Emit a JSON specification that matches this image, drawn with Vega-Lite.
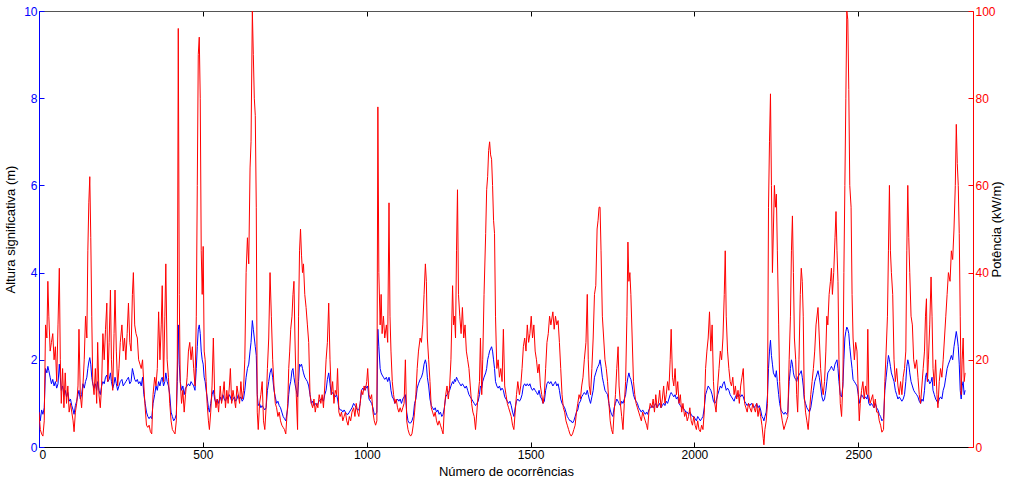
{
"$schema":"https://vega.github.io/schema/vega-lite/v6.json",
"width":934,"height":436,
"autosize":{"type":"none"},
"padding":{"left":39,"top":11,"right":51,"bottom":40},
"config":{"view":{"stroke":null},"font":"Liberation Sans","axis":{"labelFont":"Liberation Sans","titleFont":"Liberation Sans","labelFontSize":12,"titleFontSize":13,"titleFontWeight":"normal","grid":false,"tickSize":-5,"labelPadding":7,"domainWidth":1,"tickWidth":1}},
"data":{"values":[
{"x":0,"h":0.9,"p":8},{"x":4,"h":0.6,"p":4},{"x":8,"h":0.85,"p":3},{"x":12,"h":0.75,"p":2.5},{"x":16,"h":0.9,"p":6},{"x":20,"h":1.8,"p":28},{"x":24,"h":1.7,"p":25},{"x":27,"h":1.85,"p":38},{"x":30,"h":1.75,"p":30},{"x":34,"h":1.6,"p":22},{"x":38,"h":1.45,"p":24},{"x":42,"h":1.55,"p":26},{"x":46,"h":1.4,"p":20},{"x":50,"h":1.5,"p":23},{"x":54,"h":1.35,"p":15},{"x":58,"h":1.45,"p":28},{"x":62,"h":1.9,"p":41},{"x":65,"h":1.6,"p":20},{"x":68,"h":1.3,"p":10},{"x":72,"h":1.4,"p":18},{"x":76,"h":1.2,"p":9},{"x":80,"h":1.3,"p":17},{"x":84,"h":1.15,"p":10},{"x":88,"h":1.25,"p":14},{"x":92,"h":1.05,"p":8},{"x":96,"h":1.1,"p":10},{"x":100,"h":0.95,"p":8},{"x":104,"h":0.85,"p":6},{"x":107,"h":0.75,"p":3.5},{"x":111,"h":0.95,"p":8},{"x":115,"h":1.05,"p":10},{"x":119,"h":1.2,"p":14},{"x":122,"h":1.3,"p":27},{"x":126,"h":1.1,"p":12},{"x":130,"h":1.2,"p":9},{"x":134,"h":1.45,"p":14},{"x":138,"h":1.35,"p":20},{"x":142,"h":1.5,"p":30},{"x":146,"h":1.6,"p":25},{"x":149,"h":1.8,"p":45},{"x":152,"h":1.95,"p":56},{"x":155,"h":2.05,"p":62},{"x":158,"h":1.9,"p":48},{"x":161,"h":1.6,"p":30},{"x":164,"h":1.45,"p":15},{"x":168,"h":1.35,"p":12},{"x":172,"h":1.45,"p":18},{"x":176,"h":1.3,"p":10},{"x":179,"h":1.5,"p":24},{"x":183,"h":1.3,"p":12},{"x":187,"h":1.2,"p":9},{"x":191,"h":1.4,"p":14},{"x":195,"h":1.5,"p":26},{"x":199,"h":1.45,"p":20},{"x":203,"h":1.6,"p":27},{"x":207,"h":1.65,"p":33},{"x":210,"h":1.5,"p":15},{"x":214,"h":1.55,"p":24},{"x":218,"h":1.7,"p":36},{"x":221,"h":1.5,"p":20},{"x":225,"h":1.35,"p":13},{"x":229,"h":1.45,"p":26},{"x":232,"h":1.6,"p":36},{"x":236,"h":1.45,"p":22},{"x":240,"h":1.3,"p":14},{"x":244,"h":1.4,"p":18},{"x":248,"h":1.5,"p":24},
{"x":253,"h":1.55,"p":28},{"x":257,"h":1.4,"p":22},{"x":261,"h":1.45,"p":25},{"x":265,"h":1.5,"p":20},{"x":269,"h":1.55,"p":26},{"x":273,"h":1.6,"p":33},{"x":277,"h":1.45,"p":24},{"x":281,"h":1.5,"p":22},{"x":285,"h":1.8,"p":35},{"x":288,"h":1.7,"p":40},{"x":292,"h":1.55,"p":28},{"x":296,"h":1.5,"p":26},{"x":300,"h":1.55,"p":25},{"x":304,"h":1.45,"p":20},{"x":308,"h":1.5,"p":19},{"x":312,"h":1.4,"p":18},{"x":316,"h":1.6,"p":20},{"x":320,"h":1.2,"p":14},{"x":324,"h":1.0,"p":9},{"x":328,"h":0.8,"p":5},{"x":332,"h":0.7,"p":4.5},{"x":336,"h":0.65,"p":5},{"x":340,"h":0.7,"p":3.5},{"x":344,"h":0.65,"p":3},{"x":348,"h":1.0,"p":12},
{"x":353,"h":1.2,"p":16},{"x":357,"h":1.4,"p":14},{"x":361,"h":1.3,"p":18},{"x":365,"h":1.5,"p":31},{"x":369,"h":1.4,"p":20},{"x":373,"h":1.55,"p":28},{"x":376,"h":1.6,"p":37},{"x":380,"h":1.4,"p":15},{"x":384,"h":1.5,"p":30},{"x":387,"h":1.7,"p":42},{"x":391,"h":1.5,"p":20},{"x":395,"h":1.4,"p":16},{"x":399,"h":1.2,"p":10},{"x":403,"h":0.8,"p":6},{"x":407,"h":0.7,"p":4},{"x":411,"h":0.6,"p":3.5},{"x":415,"h":0.65,"p":3},{"x":419,"h":0.75,"p":6},{"x":422,"h":1.5,"p":20},{"x":425,"h":2.8,"p":96},{"x":428,"h":1.9,"p":35},{"x":431,"h":1.5,"p":15},{"x":435,"h":1.3,"p":10},{"x":439,"h":1.4,"p":13},{"x":443,"h":1.2,"p":8},{"x":447,"h":1.35,"p":12},
{"x":452,"h":1.4,"p":16},{"x":456,"h":1.45,"p":22},{"x":460,"h":1.4,"p":24},{"x":464,"h":1.5,"p":20},{"x":468,"h":1.45,"p":23},{"x":472,"h":1.4,"p":18},{"x":476,"h":1.3,"p":14},{"x":480,"h":1.8,"p":30},{"x":483,"h":2.3,"p":60},{"x":486,"h":2.7,"p":90},{"x":489,"h":2.8,"p":94},{"x":492,"h":2.6,"p":80},{"x":495,"h":2.2,"p":45},{"x":498,"h":2.0,"p":35},{"x":501,"h":1.9,"p":46},{"x":504,"h":1.6,"p":22},{"x":507,"h":1.5,"p":20},{"x":510,"h":1.3,"p":15},{"x":513,"h":1.15,"p":10},{"x":517,"h":0.9,"p":6},{"x":520,"h":0.8,"p":4},{"x":524,"h":1.0,"p":8},{"x":528,"h":1.2,"p":14},{"x":532,"h":1.3,"p":25},{"x":536,"h":1.1,"p":12},{"x":540,"h":1.0,"p":9},{"x":544,"h":1.1,"p":11},{"x":548,"h":1.0,"p":8},
{"x":553,"h":1.15,"p":14},{"x":557,"h":1.05,"p":10},{"x":561,"h":1.2,"p":12},{"x":565,"h":1.1,"p":15},{"x":569,"h":1.05,"p":9},{"x":573,"h":1.15,"p":13},{"x":577,"h":1.1,"p":10},{"x":581,"h":1.2,"p":14},{"x":584,"h":1.15,"p":18},{"x":588,"h":1.05,"p":10},{"x":592,"h":1.1,"p":13},{"x":596,"h":1.15,"p":11},{"x":600,"h":1.05,"p":9},{"x":604,"h":1.1,"p":14},{"x":608,"h":1.2,"p":12},{"x":612,"h":1.1,"p":10},{"x":616,"h":1.15,"p":15},{"x":620,"h":1.05,"p":11},{"x":624,"h":1.1,"p":13},{"x":628,"h":1.3,"p":20},{"x":632,"h":1.6,"p":40},{"x":636,"h":1.8,"p":48},{"x":640,"h":1.9,"p":42},{"x":644,"h":2.2,"p":64},{"x":647,"h":2.4,"p":70},
{"x":651,"h":2.9,"p":100},{"x":654,"h":2.7,"p":90},{"x":657,"h":2.5,"p":80},{"x":660,"h":2.3,"p":76},{"x":663,"h":2.1,"p":55},{"x":666,"h":1.2,"p":8},{"x":669,"h":0.95,"p":4},{"x":673,"h":1.0,"p":10},{"x":677,"h":0.9,"p":12},{"x":681,"h":0.95,"p":15},{"x":685,"h":0.9,"p":6},{"x":689,"h":0.85,"p":4},{"x":693,"h":0.9,"p":9},{"x":697,"h":1.3,"p":18},{"x":701,"h":1.5,"p":25},{"x":705,"h":1.7,"p":40},{"x":709,"h":1.8,"p":30},{"x":713,"h":1.6,"p":20},{"x":717,"h":1.3,"p":14},{"x":721,"h":1.15,"p":10},{"x":725,"h":1.0,"p":9},{"x":729,"h":1.05,"p":7},{"x":733,"h":0.95,"p":8},{"x":737,"h":0.9,"p":6},{"x":741,"h":0.8,"p":5},{"x":745,"h":0.7,"p":4.5},{"x":749,"h":0.65,"p":4},
{"x":753,"h":0.6,"p":3},{"x":759,"h":0.9,"p":10},{"x":762,"h":1.2,"p":18},{"x":765,"h":1.4,"p":22},{"x":768,"h":1.5,"p":27},{"x":772,"h":1.75,"p":30},{"x":775,"h":1.8,"p":35},{"x":778,"h":1.6,"p":38},{"x":781,"h":1.45,"p":25},{"x":785,"h":1.3,"p":12},{"x":789,"h":1.15,"p":4},{"x":792,"h":1.5,"p":30},{"x":795,"h":1.9,"p":45},{"x":798,"h":1.85,"p":50},{"x":801,"h":1.9,"p":44},{"x":804,"h":1.8,"p":40},{"x":807,"h":1.7,"p":42},{"x":811,"h":1.6,"p":35},{"x":815,"h":1.55,"p":32},{"x":819,"h":1.5,"p":28},{"x":823,"h":1.4,"p":24},{"x":827,"h":1.2,"p":12},{"x":831,"h":1.0,"p":10},{"x":835,"h":1.05,"p":9},{"x":839,"h":0.95,"p":11},{"x":843,"h":1.0,"p":8},{"x":847,"h":0.95,"p":10},{"x":851,"h":1.0,"p":9},{"x":855,"h":1.05,"p":12},
{"x":860,"h":1.1,"p":10},{"x":864,"h":1.1,"p":12},{"x":868,"h":1.05,"p":9},{"x":872,"h":1.2,"p":14},{"x":876,"h":1.3,"p":20},{"x":880,"h":1.55,"p":24},{"x":884,"h":1.7,"p":33},{"x":888,"h":1.45,"p":20},{"x":892,"h":1.2,"p":12},{"x":896,"h":1.25,"p":15},{"x":900,"h":1.2,"p":10},{"x":904,"h":1.15,"p":13},{"x":908,"h":1.2,"p":12},{"x":911,"h":1.1,"p":18},{"x":915,"h":0.9,"p":8},{"x":919,"h":0.85,"p":7},{"x":923,"h":0.85,"p":8},{"x":927,"h":0.8,"p":6},{"x":931,"h":0.85,"p":7},{"x":935,"h":0.8,"p":8},{"x":939,"h":0.75,"p":6},{"x":943,"h":0.75,"p":5},{"x":947,"h":0.8,"p":7},{"x":951,"h":0.85,"p":6},{"x":955,"h":0.9,"p":8},
{"x":960,"h":1.0,"p":9},{"x":964,"h":0.95,"p":7},{"x":968,"h":0.9,"p":10},{"x":972,"h":0.85,"p":8},{"x":976,"h":0.85,"p":7},{"x":980,"h":1.0,"p":10},{"x":984,"h":1.3,"p":13},{"x":988,"h":1.35,"p":12},{"x":992,"h":1.3,"p":14},{"x":996,"h":1.4,"p":13},{"x":1000,"h":1.35,"p":15},{"x":1003,"h":1.4,"p":18},{"x":1007,"h":1.1,"p":12},{"x":1011,"h":1.05,"p":11},{"x":1015,"h":1.0,"p":12},{"x":1019,"h":0.9,"p":8},{"x":1023,"h":0.75,"p":6},{"x":1027,"h":0.75,"p":5},{"x":1031,"h":0.8,"p":6},{"x":1034,"h":2.7,"p":78},{"x":1037,"h":2.3,"p":40},{"x":1041,"h":1.8,"p":28},{"x":1044,"h":1.7,"p":35},{"x":1047,"h":1.65,"p":26},{"x":1051,"h":1.6,"p":30},{"x":1055,"h":1.55,"p":25},
{"x":1060,"h":1.6,"p":28},{"x":1064,"h":1.5,"p":24},{"x":1068,"h":1.6,"p":56},{"x":1071,"h":1.5,"p":30},{"x":1074,"h":1.3,"p":22},{"x":1078,"h":1.15,"p":15},{"x":1082,"h":1.1,"p":12},{"x":1086,"h":1.0,"p":10},{"x":1090,"h":1.05,"p":11},{"x":1094,"h":1.1,"p":9},{"x":1098,"h":1.05,"p":8},{"x":1102,"h":1.1,"p":9},{"x":1106,"h":1.0,"p":8},{"x":1110,"h":1.1,"p":9},{"x":1114,"h":1.15,"p":10},{"x":1118,"h":1.2,"p":20},{"x":1122,"h":0.8,"p":6},{"x":1126,"h":0.6,"p":4},{"x":1130,"h":0.55,"p":3},{"x":1134,"h":0.55,"p":2.5},{"x":1138,"h":0.6,"p":3},{"x":1142,"h":0.7,"p":5},{"x":1146,"h":1.0,"p":8},{"x":1150,"h":1.1,"p":12},{"x":1154,"h":1.35,"p":18},{"x":1158,"h":1.45,"p":22},
{"x":1163,"h":1.55,"p":25},{"x":1167,"h":1.6,"p":24},{"x":1171,"h":1.7,"p":28},{"x":1175,"h":1.9,"p":35},{"x":1179,"h":2.0,"p":42},{"x":1182,"h":1.9,"p":38},{"x":1185,"h":1.6,"p":25},{"x":1189,"h":1.4,"p":20},{"x":1193,"h":1.1,"p":15},{"x":1197,"h":0.95,"p":9},{"x":1201,"h":0.9,"p":8},{"x":1205,"h":0.85,"p":7},{"x":1209,"h":0.9,"p":8},{"x":1213,"h":0.8,"p":6},{"x":1217,"h":0.85,"p":5},{"x":1221,"h":0.75,"p":6},{"x":1225,"h":0.8,"p":5},{"x":1229,"h":0.7,"p":4},{"x":1233,"h":0.75,"p":3},{"x":1237,"h":0.9,"p":9},{"x":1241,"h":1.15,"p":12},{"x":1245,"h":1.2,"p":14},{"x":1249,"h":1.25,"p":11},{"x":1253,"h":1.3,"p":14},{"x":1257,"h":1.4,"p":20},
{"x":1262,"h":1.5,"p":37},{"x":1265,"h":1.45,"p":28},{"x":1268,"h":1.55,"p":30},{"x":1271,"h":1.5,"p":25},{"x":1274,"h":1.6,"p":45},{"x":1277,"h":1.55,"p":59},{"x":1280,"h":1.5,"p":35},{"x":1284,"h":1.45,"p":30},{"x":1288,"h":1.4,"p":26},{"x":1292,"h":1.45,"p":32},{"x":1296,"h":1.4,"p":25},{"x":1300,"h":1.35,"p":28},{"x":1304,"h":1.4,"p":22},{"x":1308,"h":1.3,"p":20},{"x":1312,"h":1.2,"p":18},{"x":1316,"h":1.15,"p":14},{"x":1320,"h":1.1,"p":10},{"x":1324,"h":1.05,"p":8},{"x":1328,"h":1.0,"p":7},{"x":1332,"h":0.95,"p":4},{"x":1336,"h":1.0,"p":8},{"x":1340,"h":1.05,"p":12},{"x":1344,"h":1.2,"p":15},{"x":1347,"h":1.4,"p":25},{"x":1351,"h":1.35,"p":12},{"x":1354,"h":1.5,"p":20},{"x":1358,"h":1.6,"p":35},
{"x":1363,"h":1.7,"p":49},{"x":1366,"h":1.8,"p":59},{"x":1369,"h":2.0,"p":62},{"x":1372,"h":2.1,"p":68},{"x":1375,"h":2.2,"p":70},{"x":1378,"h":2.25,"p":67},{"x":1381,"h":2.3,"p":66},{"x":1384,"h":2.2,"p":60},{"x":1387,"h":2.0,"p":52},{"x":1390,"h":1.8,"p":49},{"x":1393,"h":1.5,"p":30},{"x":1397,"h":1.4,"p":18},{"x":1401,"h":1.35,"p":20},{"x":1405,"h":1.4,"p":16},{"x":1409,"h":1.3,"p":18},{"x":1413,"h":1.35,"p":15},{"x":1417,"h":1.3,"p":27},{"x":1421,"h":1.15,"p":14},{"x":1425,"h":1.1,"p":12},{"x":1429,"h":1.05,"p":10},{"x":1433,"h":1.0,"p":9},{"x":1437,"h":1.05,"p":8},{"x":1441,"h":0.95,"p":7},{"x":1445,"h":0.8,"p":5},{"x":1449,"h":0.7,"p":4},{"x":1453,"h":0.9,"p":8},{"x":1457,"h":1.05,"p":12},{"x":1461,"h":1.1,"p":15},
{"x":1466,"h":1.05,"p":12},{"x":1470,"h":1.1,"p":14},{"x":1474,"h":1.2,"p":18},{"x":1478,"h":1.4,"p":23},{"x":1482,"h":1.45,"p":25},{"x":1486,"h":1.4,"p":22},{"x":1490,"h":1.45,"p":28},{"x":1494,"h":1.4,"p":24},{"x":1498,"h":1.45,"p":26},{"x":1502,"h":1.35,"p":30},{"x":1506,"h":1.3,"p":25},{"x":1510,"h":1.35,"p":28},{"x":1514,"h":1.3,"p":22},{"x":1518,"h":1.25,"p":20},{"x":1522,"h":1.2,"p":17},{"x":1526,"h":1.3,"p":19},{"x":1530,"h":1.15,"p":14},{"x":1534,"h":1.1,"p":12},{"x":1538,"h":1.0,"p":10},{"x":1542,"h":1.05,"p":12},{"x":1546,"h":1.3,"p":18},{"x":1550,"h":1.45,"p":24},{"x":1554,"h":1.5,"p":26},{"x":1558,"h":1.45,"p":30},{"x":1562,"h":1.5,"p":28},
{"x":1568,"h":1.4,"p":31},{"x":1572,"h":1.45,"p":27},{"x":1576,"h":1.5,"p":30},{"x":1580,"h":1.4,"p":28},{"x":1584,"h":1.45,"p":29},{"x":1588,"h":1.3,"p":24},{"x":1592,"h":1.1,"p":18},{"x":1596,"h":1.0,"p":12},{"x":1600,"h":0.95,"p":9},{"x":1604,"h":0.9,"p":8},{"x":1608,"h":0.8,"p":6},{"x":1612,"h":0.7,"p":5},{"x":1616,"h":0.65,"p":4},{"x":1620,"h":0.6,"p":3},{"x":1624,"h":0.6,"p":2.5},{"x":1628,"h":0.55,"p":3},{"x":1632,"h":0.6,"p":4},{"x":1636,"h":0.7,"p":5},{"x":1640,"h":0.8,"p":8},{"x":1644,"h":0.85,"p":10},{"x":1648,"h":1.0,"p":12},{"x":1652,"h":1.05,"p":11},{"x":1656,"h":1.15,"p":14},{"x":1660,"h":1.2,"p":16},{"x":1664,"h":1.25,"p":20},
{"x":1669,"h":1.2,"p":24},{"x":1673,"h":1.3,"p":35},{"x":1676,"h":1.2,"p":20},{"x":1679,"h":1.1,"p":14},{"x":1683,"h":1.0,"p":12},{"x":1687,"h":1.15,"p":18},{"x":1691,"h":1.3,"p":25},{"x":1695,"h":1.6,"p":35},{"x":1699,"h":1.7,"p":37},{"x":1703,"h":1.8,"p":50},{"x":1706,"h":1.85,"p":52},{"x":1709,"h":1.9,"p":55},{"x":1712,"h":2.0,"p":55},{"x":1715,"h":1.85,"p":45},{"x":1719,"h":1.6,"p":30},{"x":1723,"h":1.45,"p":25},{"x":1727,"h":1.3,"p":20},{"x":1731,"h":1.25,"p":18},{"x":1735,"h":1.2,"p":15},{"x":1739,"h":1.0,"p":10},{"x":1743,"h":0.85,"p":6},{"x":1747,"h":0.75,"p":4},{"x":1751,"h":0.7,"p":3},{"x":1755,"h":0.9,"p":8},{"x":1759,"h":1.0,"p":12},{"x":1763,"h":1.1,"p":18},
{"x":1767,"h":1.05,"p":23},{"x":1770,"h":1.0,"p":14},{"x":1774,"h":0.95,"p":10},{"x":1778,"h":1.05,"p":7},{"x":1782,"h":1.0,"p":4},{"x":1786,"h":1.1,"p":10},{"x":1790,"h":1.2,"p":15},{"x":1794,"h":1.45,"p":30},{"x":1797,"h":1.6,"p":47},{"x":1800,"h":1.7,"p":38},{"x":1803,"h":1.6,"p":40},{"x":1806,"h":1.55,"p":35},{"x":1810,"h":1.4,"p":25},{"x":1814,"h":1.2,"p":15},{"x":1818,"h":1.1,"p":12},{"x":1822,"h":1.05,"p":10},{"x":1826,"h":1.0,"p":9},{"x":1830,"h":0.9,"p":8},{"x":1834,"h":0.85,"p":7},{"x":1838,"h":0.8,"p":6},{"x":1842,"h":0.85,"p":8},{"x":1846,"h":0.8,"p":7},{"x":1850,"h":0.75,"p":6},{"x":1854,"h":0.8,"p":5},{"x":1857,"h":0.75,"p":4},{"x":1861,"h":0.85,"p":8},{"x":1865,"h":0.9,"p":10},
{"x":1870,"h":0.95,"p":9},{"x":1874,"h":0.9,"p":11},{"x":1878,"h":0.95,"p":8},{"x":1882,"h":1.0,"p":12},{"x":1886,"h":0.9,"p":9},{"x":1890,"h":0.95,"p":10},{"x":1894,"h":1.0,"p":13},{"x":1898,"h":0.9,"p":9},{"x":1902,"h":0.95,"p":11},{"x":1906,"h":1.0,"p":14},{"x":1910,"h":0.95,"p":10},{"x":1914,"h":1.05,"p":12},{"x":1918,"h":1.0,"p":15},{"x":1922,"h":1.1,"p":13},{"x":1926,"h":1.2,"p":20},{"x":1929,"h":1.25,"p":27},{"x":1933,"h":1.2,"p":16},{"x":1937,"h":1.15,"p":14},{"x":1941,"h":1.2,"p":18},{"x":1945,"h":1.1,"p":12},{"x":1949,"h":1.15,"p":15},{"x":1953,"h":1.0,"p":10},{"x":1957,"h":0.95,"p":12},{"x":1961,"h":0.9,"p":8},{"x":1965,"h":0.9,"p":10},
{"x":1970,"h":0.85,"p":7},{"x":1974,"h":0.8,"p":8},{"x":1978,"h":0.8,"p":6},{"x":1982,"h":0.75,"p":7},{"x":1986,"h":0.8,"p":9},{"x":1990,"h":0.75,"p":6},{"x":1994,"h":0.7,"p":5},{"x":1998,"h":0.7,"p":7},{"x":2002,"h":0.65,"p":5},{"x":2006,"h":0.6,"p":4},{"x":2010,"h":0.7,"p":6},{"x":2014,"h":0.65,"p":4},{"x":2018,"h":0.6,"p":3.5},{"x":2022,"h":0.65,"p":5},{"x":2026,"h":0.7,"p":4},{"x":2030,"h":0.9,"p":8},{"x":2034,"h":1.2,"p":18},{"x":2038,"h":1.3,"p":22},{"x":2042,"h":1.4,"p":25},{"x":2046,"h":1.35,"p":31},{"x":2050,"h":1.3,"p":22},{"x":2054,"h":1.2,"p":28},{"x":2058,"h":1.05,"p":15},{"x":2062,"h":1.0,"p":10},{"x":2066,"h":1.05,"p":8},
{"x":2071,"h":1.2,"p":14},{"x":2075,"h":1.3,"p":18},{"x":2079,"h":1.4,"p":22},{"x":2083,"h":1.35,"p":20},{"x":2087,"h":1.45,"p":25},{"x":2091,"h":1.5,"p":35},{"x":2094,"h":1.4,"p":45},{"x":2097,"h":1.3,"p":30},{"x":2101,"h":1.35,"p":22},{"x":2105,"h":1.3,"p":18},{"x":2109,"h":1.2,"p":15},{"x":2113,"h":1.15,"p":14},{"x":2117,"h":1.1,"p":16},{"x":2121,"h":1.05,"p":12},{"x":2125,"h":1.15,"p":14},{"x":2129,"h":1.2,"p":11},{"x":2133,"h":1.15,"p":13},{"x":2137,"h":1.2,"p":10},{"x":2141,"h":1.15,"p":14},{"x":2145,"h":1.2,"p":16},{"x":2149,"h":1.15,"p":18},{"x":2153,"h":1.05,"p":10},{"x":2157,"h":1.0,"p":9},{"x":2161,"h":0.95,"p":8},{"x":2165,"h":1.0,"p":10},{"x":2169,"h":0.95,"p":9},
{"x":2174,"h":1.0,"p":8},{"x":2178,"h":0.95,"p":10},{"x":2182,"h":0.9,"p":9},{"x":2186,"h":0.95,"p":8},{"x":2190,"h":1.0,"p":10},{"x":2194,"h":0.9,"p":7},{"x":2198,"h":0.95,"p":9},{"x":2202,"h":0.85,"p":7},{"x":2206,"h":0.7,"p":5},{"x":2210,"h":0.65,"p":2},{"x":2212,"h":0.6,"p":0.5},{"x":2215,"h":0.7,"p":4},{"x":2219,"h":0.8,"p":6},{"x":2223,"h":1.2,"p":10},{"x":2226,"h":1.8,"p":55},{"x":2229,"h":2.2,"p":70},{"x":2232,"h":2.45,"p":81},{"x":2235,"h":2.1,"p":60},{"x":2238,"h":1.9,"p":40},{"x":2241,"h":1.7,"p":50},{"x":2244,"h":1.65,"p":60},{"x":2247,"h":1.6,"p":55},{"x":2250,"h":1.75,"p":58},{"x":2253,"h":1.5,"p":45},{"x":2257,"h":1.2,"p":28},{"x":2260,"h":1.0,"p":15},{"x":2264,"h":0.85,"p":8},{"x":2268,"h":0.8,"p":6},
{"x":2273,"h":0.75,"p":4},{"x":2277,"h":0.8,"p":5},{"x":2281,"h":0.75,"p":6},{"x":2285,"h":0.8,"p":7},{"x":2289,"h":1.5,"p":20},{"x":2293,"h":1.8,"p":30},{"x":2296,"h":2.0,"p":45},{"x":2299,"h":1.9,"p":53},{"x":2302,"h":1.7,"p":40},{"x":2305,"h":1.6,"p":25},{"x":2309,"h":1.55,"p":20},{"x":2312,"h":1.5,"p":12},{"x":2315,"h":1.6,"p":8},{"x":2319,"h":1.65,"p":20},{"x":2323,"h":1.7,"p":35},{"x":2326,"h":1.75,"p":41},{"x":2329,"h":1.6,"p":38},{"x":2332,"h":1.4,"p":30},{"x":2335,"h":1.1,"p":12},{"x":2339,"h":1.0,"p":8},{"x":2343,"h":0.9,"p":6},{"x":2347,"h":0.85,"p":4},{"x":2351,"h":0.8,"p":8},{"x":2355,"h":0.9,"p":12},{"x":2359,"h":1.1,"p":15},{"x":2363,"h":1.3,"p":18},{"x":2367,"h":1.5,"p":22},{"x":2371,"h":1.6,"p":28},
{"x":2377,"h":1.75,"p":32},{"x":2381,"h":1.6,"p":25},{"x":2385,"h":1.4,"p":18},{"x":2389,"h":1.15,"p":14},{"x":2393,"h":1.05,"p":12},{"x":2397,"h":1.1,"p":15},{"x":2401,"h":1.3,"p":22},{"x":2404,"h":1.5,"p":30},{"x":2407,"h":1.7,"p":28},{"x":2411,"h":1.75,"p":35},{"x":2415,"h":1.8,"p":38},{"x":2418,"h":1.85,"p":41},{"x":2421,"h":1.8,"p":35},{"x":2425,"h":1.75,"p":40},{"x":2429,"h":1.9,"p":48},{"x":2432,"h":1.95,"p":54},{"x":2435,"h":2.0,"p":45},{"x":2438,"h":1.8,"p":38},{"x":2441,"h":1.5,"p":20},{"x":2445,"h":1.2,"p":10},{"x":2449,"h":1.15,"p":7},{"x":2453,"h":1.4,"p":15},{"x":2456,"h":2.0,"p":40},{"x":2459,"h":2.5,"p":60},{"x":2462,"h":2.65,"p":80},{"x":2465,"h":2.75,"p":100},{"x":2468,"h":2.7,"p":98},{"x":2471,"h":2.6,"p":82},{"x":2474,"h":2.3,"p":60},
{"x":2478,"h":2.0,"p":55},{"x":2481,"h":1.8,"p":35},{"x":2484,"h":1.55,"p":25},{"x":2488,"h":1.5,"p":20},{"x":2492,"h":1.45,"p":24},{"x":2496,"h":1.4,"p":22},{"x":2500,"h":1.2,"p":12},{"x":2503,"h":1.0,"p":6},{"x":2506,"h":1.1,"p":10},{"x":2510,"h":1.2,"p":13},{"x":2514,"h":1.15,"p":15},{"x":2518,"h":1.1,"p":11},{"x":2522,"h":1.15,"p":14},{"x":2526,"h":1.1,"p":12},{"x":2529,"h":1.2,"p":27},{"x":2532,"h":1.0,"p":12},{"x":2536,"h":0.95,"p":10},{"x":2540,"h":1.0,"p":11},{"x":2544,"h":0.95,"p":12},{"x":2548,"h":0.9,"p":9},{"x":2552,"h":1.0,"p":11},{"x":2556,"h":0.9,"p":8},{"x":2560,"h":0.85,"p":8},{"x":2564,"h":0.75,"p":6},{"x":2568,"h":0.7,"p":5},{"x":2572,"h":0.6,"p":3.4},
{"x":2577,"h":0.65,"p":4},{"x":2581,"h":1.3,"p":15},{"x":2585,"h":1.6,"p":22},{"x":2589,"h":1.9,"p":30},{"x":2592,"h":2.1,"p":45},{"x":2595,"h":2.0,"p":60},{"x":2598,"h":1.85,"p":45},{"x":2601,"h":1.7,"p":40},{"x":2605,"h":1.6,"p":35},{"x":2609,"h":1.5,"p":20},{"x":2613,"h":1.3,"p":15},{"x":2617,"h":1.2,"p":18},{"x":2621,"h":1.1,"p":14},{"x":2625,"h":1.15,"p":12},{"x":2629,"h":1.1,"p":15},{"x":2633,"h":1.05,"p":12},{"x":2637,"h":1.1,"p":16},{"x":2641,"h":1.2,"p":18},{"x":2645,"h":1.5,"p":22},{"x":2648,"h":1.85,"p":45},{"x":2651,"h":2.0,"p":60},{"x":2654,"h":1.9,"p":48},{"x":2657,"h":1.7,"p":40},{"x":2661,"h":1.5,"p":30},{"x":2665,"h":1.4,"p":28},{"x":2669,"h":1.3,"p":20},{"x":2673,"h":1.25,"p":18},
{"x":2678,"h":1.2,"p":20},{"x":2682,"h":1.15,"p":16},{"x":2686,"h":1.05,"p":12},{"x":2690,"h":1.0,"p":10},{"x":2694,"h":1.1,"p":14},{"x":2698,"h":1.05,"p":18},{"x":2702,"h":1.3,"p":22},{"x":2705,"h":1.6,"p":30},{"x":2708,"h":1.7,"p":34},{"x":2711,"h":1.5,"p":15},{"x":2714,"h":1.55,"p":20},{"x":2718,"h":1.45,"p":28},{"x":2722,"h":1.5,"p":39},{"x":2725,"h":1.6,"p":30},{"x":2728,"h":1.3,"p":18},{"x":2732,"h":1.2,"p":14},{"x":2736,"h":1.1,"p":20},{"x":2740,"h":1.05,"p":12},{"x":2743,"h":1.0,"p":9},{"x":2747,"h":1.1,"p":15},{"x":2751,"h":1.15,"p":18},{"x":2755,"h":1.1,"p":16},{"x":2759,"h":1.3,"p":20},{"x":2763,"h":1.4,"p":25},{"x":2767,"h":1.6,"p":30},{"x":2771,"h":1.8,"p":35},{"x":2775,"h":1.9,"p":40},
{"x":2780,"h":2.0,"p":38},{"x":2784,"h":2.1,"p":45},{"x":2788,"h":2.0,"p":43},{"x":2792,"h":2.3,"p":50},{"x":2796,"h":2.5,"p":60},{"x":2799,"h":2.65,"p":74},{"x":2802,"h":2.5,"p":65},{"x":2805,"h":2.3,"p":60},{"x":2808,"h":1.9,"p":49},{"x":2811,"h":1.3,"p":30},{"x":2814,"h":1.1,"p":12},{"x":2817,"h":1.4,"p":20},{"x":2820,"h":1.5,"p":25},{"x":2823,"h":1.2,"p":15},{"x":2826,"h":1.3,"p":17}
]},
"layer":[
{"mark":{"type":"line","color":"#0000ff","strokeWidth":1,"clip":true},
 "encoding":{
  "x":{"field":"x","type":"quantitative","scale":{"domain":[0,2850],"nice":false,"zero":false},
       "axis":{"orient":"bottom","values":[0,500,1000,1500,2000,2500],"format":"d","title":"Número de ocorrências","domainColor":"#000000","tickColor":"#000000","labelColor":"#000000","titleColor":"#000000","titlePadding":5}},
  "y":{"field":"h","type":"quantitative","scale":{"domain":[0,10],"nice":false},
       "axis":{"orient":"left","values":[0,2,4,6,8,10],"title":"Altura significativa (m)","domainColor":"#0000ff","tickColor":"#0000ff","labelColor":"#0000ff","titleColor":"#000000","titlePadding":6}}}},
{"mark":{"type":"line","color":"#ff0000","strokeWidth":1,"clip":true},
 "encoding":{
  "x":{"field":"x","type":"quantitative","scale":{"domain":[0,2850],"nice":false,"zero":false},
       "axis":{"orient":"top","values":[0,500,1000,1500,2000,2500],"labels":false,"title":null,"domainColor":"#555555","tickColor":"#000000"}},
  "y":{"field":"p","type":"quantitative","scale":{"domain":[0,100],"nice":false},
       "axis":{"orient":"right","values":[0,20,40,60,80,100],"title":"Potência (kW/m)","titleAngle":270,"domainColor":"#ff0000","tickColor":"#ff0000","labelColor":"#ff0000","titleColor":"#000000","titlePadding":8}}}}
],
"resolve":{"scale":{"y":"independent"},"axis":{"x":"independent"}}
}
